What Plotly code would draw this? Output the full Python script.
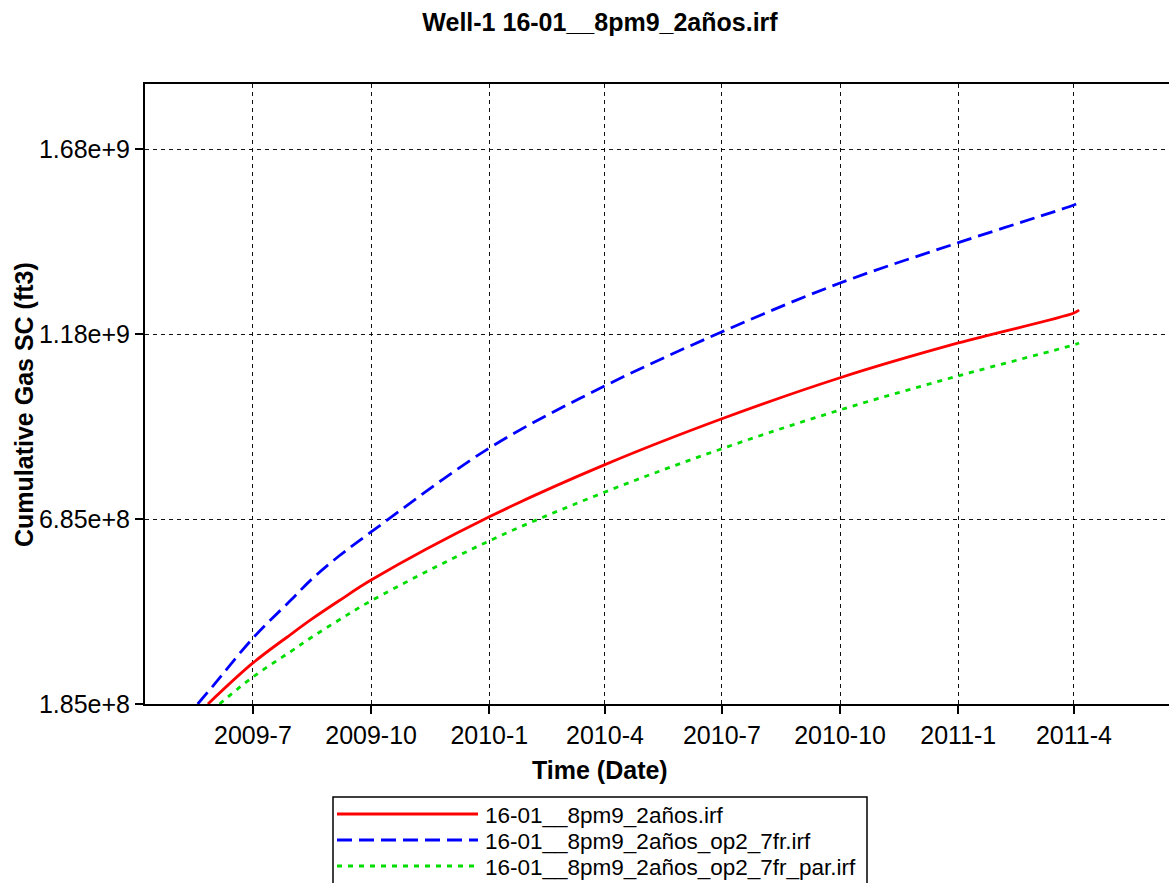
import plotly.graph_objects as go

# ---------------- data ----------------
series_names = [
    "16-01__8pm9_2años.irf",
    "16-01__8pm9_2años_op2_7fr.irf",
    "16-01__8pm9_2años_op2_7fr_par.irf",
]

red_dates = ["2009-05-27", "2009-07-01", "2009-07-30", "2009-08-16", "2009-09-06", "2009-10-01",
             "2010-01-01", "2010-04-01", "2010-07-01", "2010-10-01", "2011-01-01", "2011-04-01", "2011-04-05"]
red_vals = [1.85e8, 2.96e8, 3.72e8, 4.15e8, 4.64e8, 5.20e8,
            6.91e8, 8.32e8, 9.56e8, 10.67e8, 11.61e8, 12.42e8, 12.50e8]

blue_dates = ["2009-05-19", "2009-05-31", "2009-07-01", "2009-07-30", "2009-08-16", "2009-09-06", "2009-10-01",
              "2010-01-01", "2010-04-01", "2010-07-01", "2010-10-01", "2011-01-01", "2011-04-01", "2011-04-05"]
blue_vals = [1.85e8, 2.34e8, 3.63e8, 4.64e8, 5.23e8, 5.85e8, 6.50e8,
             8.77e8, 10.45e8, 11.91e8, 13.23e8, 14.32e8, 15.34e8, 15.40e8]

green_dates = ["2009-06-05", "2009-07-01", "2009-07-30", "2009-08-16", "2009-09-06", "2009-10-01",
               "2010-01-01", "2010-04-01", "2010-07-01", "2010-10-01", "2011-01-01", "2011-04-01", "2011-04-05"]
green_vals = [1.85e8, 2.58e8, 3.26e8, 3.66e8, 4.12e8, 4.64e8,
              6.26e8, 7.58e8, 8.75e8, 9.80e8, 10.72e8, 11.56e8, 11.61e8]

x_tick_vals = ["2009-07-01", "2009-10-01", "2010-01-01", "2010-04-01", "2010-07-01",
               "2010-10-01", "2011-01-01", "2011-04-01"]
x_tick_text = ["2009-7", "2009-10", "2010-1", "2010-4", "2010-7", "2010-10", "2011-1", "2011-4"]
y_tick_vals = [1.85e8, 6.85e8, 1.185e9, 1.685e9]
y_tick_text = ["1.85e+8", "6.85e+8", "1.18e+9", "1.68e+9"]

# ---------------- layout geometry ----------------
W, H = 1169, 883
L, R, T, B = 145, 0, 84, 179
PW, PH = W - L - R, H - T - B


def px(xp):
    return (xp - L) / PW


def py(yp):
    return (H - B - yp) / PH


FONT = "Liberation Sans, Arial, sans-serif"
colors = ["#ff0000", "#0000ff", "#00dd00"]
dashes = ["solid", "15px,7px", "5px,6px"]

fig = go.Figure()
for name, xs, ys, c, d in zip(series_names,
                              [red_dates, blue_dates, green_dates],
                              [red_vals, blue_vals, green_vals],
                              colors, dashes):
    fig.add_trace(go.Scatter(x=xs, y=ys, mode="lines", name=name,
                             line=dict(color=c, width=2.8, dash=d, shape="spline", smoothing=1.0),
                             showlegend=False))

grid = dict(showgrid=True, gridcolor="#111111", gridwidth=1, griddash="4px,4px")

fig.update_xaxes(type="date", range=["2009-04-08", "2011-06-14"],
                 tickmode="array", tickvals=x_tick_vals, ticktext=x_tick_text,
                 showline=True, linecolor="black", linewidth=2, mirror=True,
                 ticks="outside", ticklen=8, tickwidth=2, tickcolor="black",
                 tickfont=dict(family=FONT, size=25, color="black"),
                 zeroline=False, **grid)
fig.update_yaxes(range=[1.85e8, 1.861e9],
                 tickmode="array", tickvals=y_tick_vals, ticktext=y_tick_text,
                 showline=True, linecolor="black", linewidth=2, mirror=False,
                 ticks="outside", ticklen=8, tickwidth=2, tickcolor="black",
                 tickfont=dict(family=FONT, size=25, color="black"),
                 zeroline=False, **grid)

annotations = [
    dict(text="<b>Time (Date)</b>", xref="paper", yref="paper", x=px(600), y=py(770),
         xanchor="center", yanchor="middle", showarrow=False,
         font=dict(family=FONT, size=25, color="black")),
    dict(text="<b>Cumulative Gas SC (ft3)</b>", xref="paper", yref="paper", x=px(24), y=py(405),
         xanchor="center", yanchor="middle", showarrow=False, textangle=-90,
         font=dict(family=FONT, size=25, color="black")),
]

shapes = [
    dict(type="rect", xref="paper", yref="paper", x0=px(333), x1=px(867), y0=py(797), y1=py(900),
         line=dict(color="black", width=1.5), fillcolor="white", layer="above"),
]
row_y = [814, 840, 866]
for name, c, d, ry in zip(series_names, colors, dashes, row_y):
    shapes.append(dict(type="line", xref="paper", yref="paper", x0=px(337), x1=px(478),
                       y0=py(ry), y1=py(ry), line=dict(color=c, width=2.8, dash=d), layer="above"))
    annotations.append(dict(text=name, xref="paper", yref="paper", x=px(483), y=py(ry + 1),
                            xanchor="left", yanchor="middle", showarrow=False,
                            font=dict(family=FONT, size=22.5, color="black")))

fig.update_layout(
    width=W, height=H,
    margin=dict(l=L, r=R, t=T, b=B, pad=0),
    paper_bgcolor="white", plot_bgcolor="white",
    title=dict(text="<b>Well-1 16-01__8pm9_2años.irf</b>", x=600 / W, xref="container",
               xanchor="center", y=1 - 22 / H, yref="container", yanchor="middle",
               font=dict(family=FONT, size=25, color="black")),
    annotations=annotations, shapes=shapes, showlegend=False,
)

fig.write_html("out.html")
